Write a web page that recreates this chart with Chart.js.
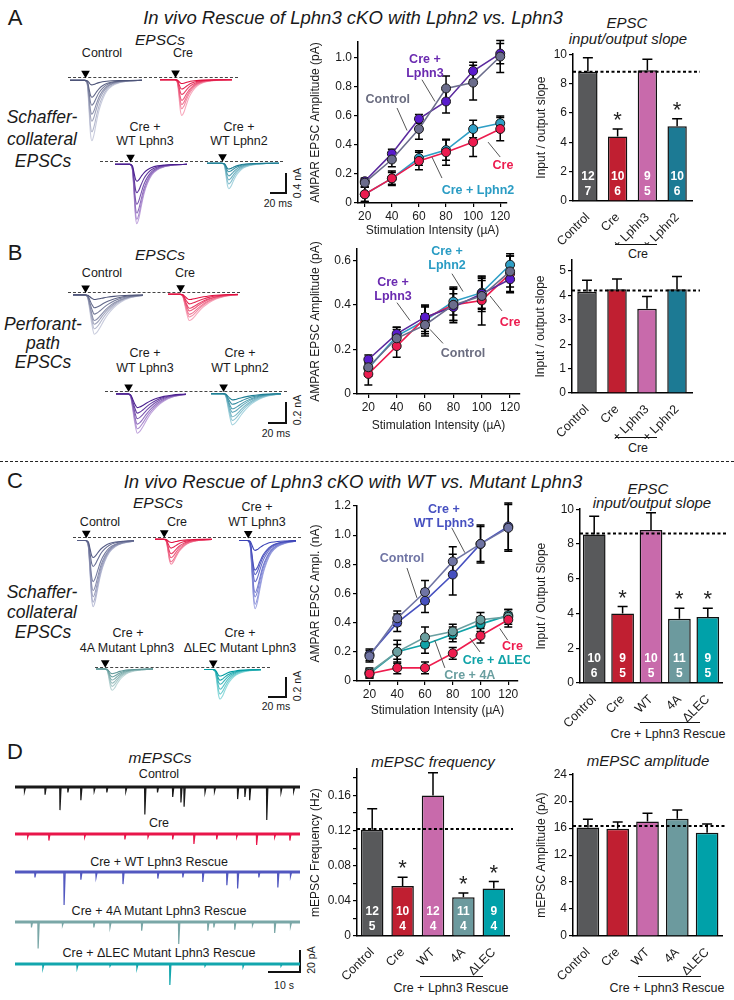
<!DOCTYPE html>
<html>
<head>
<meta charset="utf-8">
<title>Lphn3 rescue</title>
<script src="https://cdn.jsdelivr.net/npm/chart.js@4.4.1/dist/chart.umd.min.js"></script>
<style>
  body { margin: 0; background: #fff; }
  #fig { position: relative; width: 734px; height: 1000px; overflow: hidden; font-family: "Liberation Sans", Arial, sans-serif; color: #1a1a1a; }
  #fig canvas { position: absolute; }
  .t { position: absolute; white-space: nowrap; transform: translate(-50%, -50%); font-size: 12.5px; line-height: 1; }
  .ln { position: absolute; background: #111; }
  .dash { position: absolute; height: 0; border-top: 1px dashed #444; }
</style>
</head>
<body>
<div id="fig"></div>
<script>
// ---------- data ----------
const stimUA = [20, 40, 60, 80, 100, 120];

// A: Schaffer-collateral input/output
const aControl = [0.14, 0.30, 0.51, 0.79, 0.83, 1.01];
const aControlErr = [0.03, 0.05, 0.07, 0.085, 0.12, 0.11];
const aLphn3 = [0.15, 0.34, 0.58, 0.70, 0.91, 1.03];
const aLphn3Err = [0.02, 0.03, 0.03, 0.08, 0.06, 0.07];
const aCre = [0.06, 0.17, 0.29, 0.35, 0.42, 0.51];
const aCreErr = [0.05, 0.05, 0.06, 0.09, 0.10, 0.08];
const aLphn2 = [0.06, 0.17, 0.31, 0.365, 0.51, 0.55];
const aLphn2Err = [0.05, 0.04, 0.05, 0.07, 0.06, 0.05];

// B: perforant-path input/output
const bControl = [0.12, 0.25, 0.31, 0.40, 0.44, 0.55];
const bControlErr = [0.04, 0.04, 0.05, 0.07, 0.07, 0.07];
const bLphn3 = [0.155, 0.27, 0.345, 0.39, 0.45, 0.515];
const bLphn3Err = [0.02, 0.03, 0.05, 0.06, 0.07, 0.06];
const bCre = [0.09, 0.215, 0.34, 0.40, 0.42, 0.54];
const bCreErr = [0.05, 0.05, 0.06, 0.08, 0.11, 0.08];
const bLphn2 = [0.115, 0.26, 0.33, 0.415, 0.455, 0.58];
const bLphn2Err = [0.03, 0.04, 0.06, 0.06, 0.07, 0.05];

// C: WT vs mutant rescue input/output (nA)
const cControl = [0.17, 0.43, 0.61, 0.82, 0.94, 1.05];
const cControlErr = [0.04, 0.05, 0.08, 0.10, 0.12, 0.16];
const cWT = [0.18, 0.40, 0.55, 0.73, 0.94, 1.06];
const cWTErr = [0.04, 0.06, 0.08, 0.14, 0.13, 0.16];
const cCre = [0.05, 0.09, 0.09, 0.19, 0.31, 0.42];
const cCreErr = [0.03, 0.04, 0.04, 0.04, 0.05, 0.05];
const c4A = [0.06, 0.20, 0.30, 0.34, 0.42, 0.44];
const c4AErr = [0.03, 0.08, 0.07, 0.05, 0.05, 0.05];
const cDLEC = [0.05, 0.20, 0.25, 0.32, 0.39, 0.45];
const cDLECErr = [0.03, 0.05, 0.06, 0.05, 0.05, 0.04];

// slope / mEPSC bar summaries
const lphnCats = ['Control', 'Cre', '+ Lphn3', '+ Lphn2'];
const rescueCats = ['Control', 'Cre', 'WT', '4A', 'ΔLEC'];
const slopeA = [8.8, 4.4, 8.9, 5.1];
const slopeAErr = [0.95, 0.5, 0.75, 0.5];
const slopeAN = [['12', '7'], ['10', '6'], ['9', '5'], ['10', '6']];
const slopeB = [4.15, 4.25, 3.45, 4.25];
const slopeBErr = [0.47, 0.42, 0.5, 0.52];
const slopeC = [8.55, 4.0, 8.8, 3.7, 3.8];
const slopeCErr = [1.05, 0.4, 1.0, 0.6, 0.5];
const slopeCN = [['10', '6'], ['9', '5'], ['10', '5'], ['11', '5'], ['9', '5']];
const mFreq = [0.121, 0.057, 0.160, 0.044, 0.054];
const mFreqErr = [0.024, 0.010, 0.026, 0.005, 0.008];
const mFreqN = [['12', '5'], ['10', '4'], ['12', '4'], ['11', '4'], ['9', '4']];
const mAmp = [16.1, 15.9, 17.0, 17.4, 15.3];
const mAmpErr = [1.2, 1.0, 1.2, 1.3, 1.3];
const refSlopeA = 8.8, refSlopeB = 4.2, refSlopeC = 8.6, refFreq = 0.122, refAmp = 16.3;

// EPSC waveform templates (ms, normalised) and peak amplitudes (nA) per trace family
const fastT = [-22, -1, 1, 3, 5, 7, 9, 12, 15, 19, 24, 30, 38, 48, 62, 80];
const fastShape = [0, 0, -0.02, -0.12, -0.5, -0.88, -1, -0.9, -0.72, -0.5, -0.32, -0.18, -0.09, -0.04, -0.01, 0];
const slowT = [-22, -1, 1, 3, 5, 8, 11, 14, 18, 23, 29, 36, 45, 56, 68, 80];
const slowShape = [0, 0, -0.02, -0.1, -0.35, -0.75, -1, -0.96, -0.84, -0.66, -0.48, -0.32, -0.18, -0.08, -0.03, 0];
const aTrControl = [0.10, 0.38, 0.56, 0.76, 0.92, 1.16, 1.36];
const aTrCre = [0.09, 0.22, 0.35, 0.49, 0.59, 0.69, 0.85];
const aTrLphn3 = [0.38, 0.64, 0.90, 1.10, 1.24, 1.34];
const aTrLphn2 = [0.14, 0.21, 0.31, 0.41, 0.51, 0.63];
const bTrControl = [0.05, 0.14, 0.21, 0.28, 0.32, 0.37, 0.43];
const bTrCre = [0.06, 0.11, 0.16, 0.19, 0.23, 0.26, 0.30];
const bTrLphn3 = [0.15, 0.21, 0.27, 0.33, 0.38, 0.43];
const bTrLphn2 = [0.07, 0.12, 0.17, 0.21, 0.26, 0.30, 0.35];
const cTrControl = [0.19, 0.29, 0.46, 0.56, 0.63, 0.69, 0.74];
const cTrCre = [0.04, 0.11, 0.18, 0.23, 0.28, 0.31];
const cTrWT = [0.11, 0.33, 0.38, 0.46, 0.58, 0.63, 0.71, 0.76];
const cTr4A = [0.06, 0.10, 0.14, 0.18, 0.22, 0.27];
const cTrDLEC = [0.08, 0.13, 0.18, 0.24, 0.30, 0.36];

// mEPSC events: [time s, amplitude pA]
const mControl = [[3, 4], [9.5, 7], [14.2, 21], [16.7, 5], [20.8, 12], [25, 4], [29, 5], [35, 4], [41, 25], [45, 5], [49.8, 9], [52.4, 14], [53.4, 18], [60, 5], [63, 4], [70.3, 11], [72.6, 9], [74.1, 12], [79.5, 30], [84, 5], [88, 4]];
const mCre = [[4, 3], [10.7, 6], [22, 3], [34.7, 5], [42, 3], [49.8, 5], [56.5, 9], [63.7, 5], [70, 3], [76.3, 10], [82, 3], [86.8, 6]];
const mWT = [[6.3, 5], [15.5, 30], [20.8, 7], [25.6, 5], [34.1, 11], [45.1, 6], [53, 5], [59.3, 9], [66.9, 12], [70.3, 15], [77, 5], [83, 14], [87, 4]];
const m4A = [[5.2, 5], [7.3, 24], [15, 3], [24.9, 5], [30, 5], [40, 8], [51.7, 20], [60.9, 8], [62.8, 5], [69.4, 7], [75, 3], [82, 10], [87, 4]];
const mDLEC = [[8.8, 4], [19.6, 4], [30, 2], [38.5, 4], [48.9, 19], [60, 2], [72, 3], [84, 2]];

// ---------- colours ----------
const barControl = '#58595b', barCre = '#c01f31', barLphn3 = '#c86aab', barLphn2 = '#1c7a94';
const bar4A = '#6c9a9e', barDLEC = '#00a1a9';

Chart.defaults.font.family = '"Liberation Sans", Arial, sans-serif';
Chart.defaults.font.size = 12;
Chart.defaults.color = '#1a1a1a';

const fig = document.getElementById('fig');

function canvasAt(l, t, w, h) {
  const c = document.createElement('canvas');
  c.width = w; c.height = h;
  c.style.left = l + 'px'; c.style.top = t + 'px';
  c.style.width = w + 'px'; c.style.height = h + 'px';
  fig.appendChild(c);
  return c;
}
function txt(x, y, s, css) {
  const d = document.createElement('div');
  d.className = 't';
  d.style.left = x + 'px'; d.style.top = y + 'px';
  if (css) d.style.cssText += css;
  d.textContent = s;
  fig.appendChild(d);
}
function rule(l, t, w, h) {
  const d = document.createElement('div');
  d.className = 'ln';
  d.style.cssText += `left:${l}px;top:${t}px;width:${w}px;height:${h}px`;
  fig.appendChild(d);
}
function dashed(l, t, w) {
  const d = document.createElement('div');
  d.className = 'dash';
  d.style.cssText += `left:${l}px;top:${t}px;width:${w}px`;
  fig.appendChild(d);
}
function mix(a, b, f) {
  const pa = [1, 3, 5].map(i => parseInt(a.substr(i, 2), 16));
  const pb = [1, 3, 5].map(i => parseInt(b.substr(i, 2), 16));
  return 'rgb(' + pa.map((v, i) => Math.round(v + (pb[i] - v) * f)).join(',') + ')';
}

// error bars, dashed reference, asterisks, n labels, curve labels
function drawErrors(chart, both) {
  const ctx = chart.ctx, y = chart.scales.y;
  ctx.save();
  ctx.strokeStyle = '#000';
  ctx.lineWidth = 1.5;
  chart.data.datasets.forEach((ds, di) => {
    if (!ds.err) return;
    const meta = chart.getDatasetMeta(di);
    const cap = both ? 4 : 5;
    ds.err.forEach((e, j) => {
      const v = typeof ds.data[j] === 'object' ? ds.data[j].y : ds.data[j];
      const px = meta.data[j].x;
      const hi = y.getPixelForValue(v + e), lo = y.getPixelForValue(both ? v - e : v);
      ctx.beginPath();
      ctx.moveTo(px, lo); ctx.lineTo(px, hi);
      ctx.moveTo(px - cap, hi); ctx.lineTo(px + cap, hi);
      if (both) { ctx.moveTo(px - cap, lo); ctx.lineTo(px + cap, lo); }
      ctx.stroke();
    });
  });
  ctx.restore();
}
const figExtras = {
  id: 'figExtras',
  beforeDatasetsDraw(chart, args, o) {
    if (o.errMode === 'both') drawErrors(chart, true);
  },
  afterDatasetsDraw(chart, args, o) {
    if (!o.errMode) return;
    if (o.errMode === 'up') drawErrors(chart, false);
    const ctx = chart.ctx, y = chart.scales.y, x = chart.scales.x, a = chart.chartArea;
    const ds = chart.data.datasets[0], meta = chart.getDatasetMeta(0);
    ctx.save();
    if (o.refLine !== undefined) {
      const py = y.getPixelForValue(o.refLine);
      ctx.beginPath();
      ctx.setLineDash([3, 2.5]);
      ctx.lineWidth = 2;
      ctx.strokeStyle = '#000';
      ctx.moveTo(a.left, py); ctx.lineTo(a.right + (o.refExtend || 0), py);
      ctx.stroke();
      ctx.setLineDash([]);
    }
    (o.stars || []).forEach(i => {
      const py = y.getPixelForValue(ds.data[i] + ds.err[i]);
      ctx.font = '22px "Liberation Sans", Arial';
      ctx.fillStyle = '#222';
      ctx.textAlign = 'center';
      ctx.textBaseline = 'alphabetic';
      ctx.fillText('*', meta.data[i].x, py - 2);
    });
    (o.nLabels || []).forEach((pair, i) => {
      ctx.font = 'bold 12px "Liberation Sans", Arial';
      ctx.fillStyle = '#fff';
      ctx.textAlign = 'center';
      ctx.textBaseline = 'middle';
      ctx.fillText(pair[0], meta.data[i].x, a.bottom - 24);
      ctx.fillText(pair[1], meta.data[i].x, a.bottom - 9);
    });
    (o.notes || []).forEach(n => {
      ctx.strokeStyle = '#555';
      ctx.lineWidth = 1;
      ctx.beginPath();
      ctx.moveTo(x.getPixelForValue(n.from[0]), y.getPixelForValue(n.from[1]));
      ctx.lineTo(x.getPixelForValue(n.to[0]), y.getPixelForValue(n.to[1]));
      ctx.stroke();
      ctx.font = 'bold 12.5px "Liberation Sans", Arial';
      ctx.fillStyle = n.color;
      ctx.textAlign = 'center';
      ctx.textBaseline = 'middle';
      const cx = x.getPixelForValue(n.at[0]), cy = y.getPixelForValue(n.at[1]);
      n.text.forEach((s, k) => ctx.fillText(s, cx, cy + (k - (n.text.length - 1) / 2) * 14));
    });
    ctx.restore();
  }
};
Chart.register(figExtras);

const baseOpts = { responsive: false, animation: false, devicePixelRatio: 1 };

// ticks: values that get a mark; labelEvery: only these values get a label
function yAxis(min, max, ticks, title, width, fmt, labelled) {
  return {
    min, max,
    afterBuildTicks: s => { s.ticks = ticks.map(v => ({ value: v })); },
    afterFit: s => { s.width = width; },
    ticks: {
      callback: v => (labelled && !labelled.includes(v) ? '' : (fmt ? fmt(v) : String(v))),
      padding: 2, font: { size: 12 }, color: '#1a1a1a'
    },
    grid: { drawOnChartArea: false, drawTicks: true, tickLength: 4, color: '#000', lineWidth: 1.2 },
    border: { display: true, color: '#000', width: 1.5 },
    title: { display: true, text: title, font: { size: 12 }, padding: { top: 2, bottom: 2 }, color: '#1a1a1a' }
  };
}
function ioX(min, max, h) {
  return {
    type: 'linear', min, max,
    afterBuildTicks: s => { s.ticks = stimUA.map(v => ({ value: v })); },
    afterFit: s => { s.height = h; },
    ticks: { padding: 2, font: { size: 12 }, color: '#1a1a1a' },
    grid: { drawOnChartArea: false, drawTicks: true, tickLength: 4, color: '#000', lineWidth: 1.2 },
    border: { display: true, color: '#000', width: 1.5 },
    title: { display: true, text: 'Stimulation Intensity (µA)', font: { size: 12 }, padding: { top: 2, bottom: 2 }, color: '#1a1a1a' }
  };
}
const fmt1 = v => (v === 0 ? '0' : v.toFixed(1));

function ioChart(c, series, xCfg, yCfg, pad, notes) {
  new Chart(c, {
    type: 'line',
    data: {
      datasets: series.map(s => ({
        data: stimUA.map((u, i) => ({ x: u, y: s.v[i] })),
        err: s.e,
        borderColor: s.c,
        backgroundColor: s.p || s.c,
        pointBackgroundColor: s.p || s.c,
        pointBorderColor: '#1a1a1a',
        pointBorderWidth: 1,
        pointRadius: 4.5,
        borderWidth: 1.6
      }))
    },
    options: Object.assign({}, baseOpts, {
      layout: { padding: pad },
      plugins: { legend: { display: false }, tooltip: { enabled: false }, figExtras: { errMode: 'both', notes } },
      scales: { x: xCfg, y: yCfg }
    })
  });
}

function barChart(c, cats, vals, errs, colors, yCfg, xh, pad, barPct, extras) {
  new Chart(c, {
    type: 'bar',
    data: {
      labels: cats,
      datasets: [{ data: vals, err: errs, backgroundColor: colors, borderColor: '#111', borderWidth: 1.5, barPercentage: barPct, categoryPercentage: 1 }]
    },
    options: Object.assign({}, baseOpts, {
      layout: { padding: pad },
      plugins: { legend: { display: false }, tooltip: { enabled: false }, figExtras: Object.assign({ errMode: 'up' }, extras) },
      scales: {
        x: {
          afterFit: s => { s.height = xh; },
          ticks: { minRotation: 45, maxRotation: 45, padding: 1, font: { size: 12.5 }, color: '#1a1a1a' },
          grid: { display: false },
          border: { display: true, color: '#000', width: 1.5 }
        },
        y: yCfg
      }
    })
  });
}

// one family of overlaid EPSC traces
function traceChart(sec, amps, stimX, baseY, dark, light) {
  const w = Math.round((sec.tMax - sec.tMin) * sec.pxMs);
  const h = 14 + Math.round(Math.max(...amps) * sec.pxNA) + 6;
  const c = canvasAt(Math.round(stimX + sec.tMin * sec.pxMs), baseY - 14, w, h);
  const datasets = amps.map((amp, k) => ({
    data: sec.t.map((t, i) => ({ x: t, y: sec.shape[i] * amp })),
    borderColor: mix(dark, light, k / (amps.length - 1)),
    borderWidth: 1.1,
    pointRadius: 0,
    cubicInterpolationMode: 'monotone'
  }));
  datasets.push({
    data: [{ x: 0, y: 8 / sec.pxNA }], showLine: false,
    pointStyle: 'triangle', pointRotation: 180, pointRadius: 5,
    pointBackgroundColor: '#000', pointBorderColor: '#000', borderWidth: 0
  });
  new Chart(c, {
    type: 'line',
    data: { datasets },
    options: Object.assign({}, baseOpts, {
      layout: { padding: 0 },
      plugins: { legend: { display: false }, tooltip: { enabled: false } },
      scales: {
        x: { type: 'linear', display: false, min: sec.tMin, max: sec.tMax },
        y: { display: false, min: -(h - 14) / sec.pxNA, max: 14 / sec.pxNA }
      }
    })
  });
}

// one mEPSC recording
function miniTrace(events, baseY, color) {
  const pxPA = 1.1;
  const h = Math.round(Math.max(...events.map(e => e[1])) * pxPA + 10);
  const c = canvasAt(15, baseY - 5, 285, h);
  const pts = [{ x: 0, y: 0 }];
  events.forEach(([t, a]) => pts.push({ x: t - 0.08, y: 0 }, { x: t, y: -a }, { x: t + 0.35, y: 0 }));
  pts.push({ x: 90, y: 0 });
  new Chart(c, {
    type: 'line',
    data: {
      datasets: [
        { data: pts, borderColor: color, borderWidth: 1.2, pointRadius: 0 },
        { data: [{ x: 0, y: 0 }, { x: 90, y: 0 }], borderColor: color, borderWidth: 3, pointRadius: 0 }
      ]
    },
    options: Object.assign({}, baseOpts, {
      layout: { padding: 0 },
      plugins: { legend: { display: false }, tooltip: { enabled: false } },
      scales: {
        x: { type: 'linear', display: false, min: 0, max: 90 },
        y: { display: false, min: -(h - 5) / pxPA, max: 5 / pxPA }
      }
    })
  });
}

// ---------- static text & decorations ----------
dashed(68, 77, 170); dashed(100, 161, 183);
dashed(68, 292, 172); dashed(105, 391, 182);
dashed(73, 537, 228); dashed(95, 667, 175);

const bigLetter = 'font-size:22px';
txt(15, 18, 'A', bigLetter); txt(15, 253, 'B', bigLetter); txt(15, 481, 'C', bigLetter); txt(15, 752, 'D', bigLetter);
txt(353, 18, 'In vivo Rescue of Lphn3 cKO with Lphn2 vs. Lphn3', 'font-size:18.5px;font-style:italic');
txt(353, 482, 'In vivo Rescue of Lphn3 cKO with WT vs. Mutant Lphn3', 'font-size:18.5px;font-style:italic');
const sep = document.createElement('div');
sep.style.cssText = 'position:absolute;left:0;top:461px;width:734px;height:0;border-top:1.5px dashed #222';
fig.appendChild(sep);

const ital = 'font-style:italic;font-size:15.5px';
const side = 'font-style:italic;font-size:17.5px';
const small = 'font-size:10.5px';
const vert = 'font-size:10.5px;transform:translate(-50%,-50%) rotate(-90deg)';

// A traces text
txt(160, 40, 'EPSCs', ital); txt(102, 53, 'Control'); txt(183, 53, 'Cre');
txt(145, 127, 'Cre +'); txt(145, 141, 'WT Lphn3'); txt(239, 127, 'Cre +'); txt(239, 141, 'WT Lphn2');
txt(42, 118, 'Schaffer-', side); txt(42, 140, 'collateral', side); txt(43, 162, 'EPSCs', side);
rule(285, 173, 1.5, 20); rule(270, 192, 17, 1.5); txt(278, 203, '20 ms', small); txt(297, 183, '0.4 nA', vert);
// B traces text
txt(160, 255, 'EPSCs', ital); txt(102, 273, 'Control'); txt(185, 273, 'Cre');
txt(145, 353, 'Cre +'); txt(145, 368, 'WT Lphn3'); txt(240, 353, 'Cre +'); txt(240, 368, 'WT Lphn2');
txt(43, 325, 'Perforant-', side); txt(43, 344, 'path', side); txt(43, 363, 'EPSCs', side);
rule(285, 402, 1.5, 21); rule(268, 422, 19, 1.5); txt(276, 433, '20 ms', small); txt(297, 410, '0.2 nA', vert);
// C traces text
txt(158, 503, 'EPSCs', ital); txt(100, 522, 'Control'); txt(177, 522, 'Cre');
txt(257, 507, 'Cre +'); txt(257, 522, 'WT Lphn3');
txt(42, 593, 'Schaffer-', side); txt(42, 613, 'collateral', side); txt(43, 633, 'EPSCs', side);
txt(128, 633, 'Cre +'); txt(127, 648, '4A Mutant Lphn3'); txt(240, 633, 'Cre +'); txt(240, 648, 'ΔLEC Mutant Lphn3');
rule(285, 677, 1.5, 20); rule(268, 696, 19, 1.5); txt(276, 706, '20 ms', small); txt(297, 686, '0.2 nA', vert);
// D traces text
txt(160, 758, 'mEPSCs', ital); txt(159, 774, 'Control'); txt(159, 823, 'Cre');
txt(159, 862, 'Cre + WT Lphn3 Rescue'); txt(159, 911, 'Cre + 4A Mutant Lphn3 Rescue'); txt(159, 953, 'Cre + ΔLEC Mutant Lphn3 Rescue');
rule(299, 950, 1.5, 22); rule(268, 971, 33, 1.5); txt(284, 985, '10 s', small); txt(311, 960, '20 pA', vert);

// bar titles and group brackets
const btitle = 'font-style:italic;font-size:15px';
txt(627, 22, 'EPSC', btitle); txt(628, 38, 'input/output slope', btitle);
rule(615, 244, 42, 1.2); txt(638, 254, 'Cre');
rule(615, 437, 42, 1.2); txt(638, 448, 'Cre');
txt(648, 488, 'EPSC', btitle); txt(652, 502, 'input/output slope', btitle);
rule(640, 722, 60, 1.2); txt(668, 734, 'Cre + Lphn3 Rescue');
txt(433, 761, 'mEPSC frequency', btitle); rule(420, 976, 63, 1.2); txt(451, 988, 'Cre + Lphn3 Rescue');
txt(648, 760, 'mEPSC amplitude', btitle); rule(638, 976, 63, 1.2); txt(667, 988, 'Cre + Lphn3 Rescue');

// ---------- traces ----------
const secA = { t: fastT, shape: fastShape, tMin: -22, tMax: 80, pxMs: 0.8, pxNA: 50 };
const secB = { t: slowT, shape: slowShape, tMin: -16, tMax: 73, pxMs: 0.9, pxNA: 108 };
const secC = { t: fastT, shape: fastShape, tMin: -12, tMax: 62, pxMs: 0.9, pxNA: 100 };
traceChart(secA, aTrControl, 83, 77, '#4d5478', '#c9ccdd');
traceChart(secA, aTrCre, 173, 77, '#e0103f', '#f7a8bc');
traceChart(secA, aTrLphn3, 128, 161, '#4b2090', '#c0a4dc');
traceChart(secA, aTrLphn2, 220, 161, '#1f7f95', '#a5d3de');
traceChart(secB, bTrControl, 82, 292, '#4d5478', '#c9ccdd');
traceChart(secB, bTrCre, 177, 292, '#e0103f', '#f7a8bc');
traceChart(secB, bTrLphn3, 125, 391, '#4b2090', '#c0a4dc');
traceChart(secB, bTrLphn2, 220, 391, '#1f7f95', '#a5d3de');
traceChart(secC, cTrControl, 83, 537, '#565d86', '#b9bdd6');
traceChart(secC, cTrCre, 161, 537, '#e0103f', '#f490a8');
traceChart(secC, cTrWT, 245, 537, '#3a42b6', '#a2a7e2');
traceChart(secC, cTr4A, 102, 667, '#5c9696', '#bcd6d6');
traceChart(secC, cTrDLEC, 210, 667, '#009ca2', '#90dadc');

miniTrace(mControl, 787, '#1a1a1a');
miniTrace(mCre, 834, '#e8164a');
miniTrace(mWT, 872, '#5258c0');
miniTrace(m4A, 922, '#7aa7a7');
miniTrace(mDLEC, 964, '#12a6ad');

// ---------- input/output curves ----------
ioChart(canvasAt(300, 30, 225, 210), [
  { v: aControl, e: aControlErr, c: '#6b6d8c' },
  { v: aLphn3, e: aLphn3Err, c: '#5b2a9e', p: '#5a1ccc' },
  { v: aCre, e: aCreErr, c: '#ec1c4f' },
  { v: aLphn2, e: aLphn2Err, c: '#2f9fc6' }
], ioX(15, 125, 37), yAxis(0, 1.11, [0, 0.2, 0.4, 0.6, 0.8, 1.0], 'AMPAR EPSC Amplitude (pA)', 52, fmt1),
{ left: 6, top: 12, right: 18, bottom: 0 }, [
  { text: ['Cre +', 'Lphn3'], color: '#6a2ab0', at: [64.4, 0.94], from: [62.2, 0.85], to: [71.8, 0.70] },
  { text: ['Control'], color: '#6b6d80', at: [37, 0.71], from: [43.8, 0.655], to: [51.2, 0.50] },
  { text: ['Cre'], color: '#ec1c4f', at: [122, 0.255], from: [111, 0.42], to: [120, 0.317] },
  { text: ['Cre + Lphn2'], color: '#2a9cc4', at: [103.6, 0.083], from: [69.6, 0.317], to: [77, 0.172] }
]);

ioChart(canvasAt(300, 240, 232, 195), [
  { v: bControl, e: bControlErr, c: '#6b6d8c' },
  { v: bLphn3, e: bLphn3Err, c: '#5b2a9e', p: '#5a1ccc' },
  { v: bCre, e: bCreErr, c: '#ec1c4f' },
  { v: bLphn2, e: bLphn2Err, c: '#2f9fc6' }
], ioX(12, 127, 41), yAxis(0, 0.65, [0, 0.2, 0.4, 0.6], 'AMPAR EPSC Amplitude (pA)', 51, fmt1),
{ left: 6, top: 8, right: 12, bottom: 0 }, [
  { text: ['Cre +', 'Lphn2'], color: '#2a9cc4', at: [75.5, 0.61], from: [79, 0.54], to: [86.8, 0.46] },
  { text: ['Cre +', 'Lphn3'], color: '#6a2ab0', at: [37.4, 0.47], from: [40.2, 0.41], to: [49.4, 0.33] },
  { text: ['Control'], color: '#6b6d80', at: [86.8, 0.18], from: [63.5, 0.29], to: [72.7, 0.227] },
  { text: ['Cre'], color: '#ec1c4f', at: [120, 0.32], from: [105.9, 0.44], to: [114.3, 0.373] }
]);

ioChart(canvasAt(300, 495, 230, 225), [
  { v: cControl, e: cControlErr, c: '#6f74a4' },
  { v: cWT, e: cWTErr, c: '#4650c0' },
  { v: cCre, e: cCreErr, c: '#ee1c4e' },
  { v: c4A, e: c4AErr, c: '#6a9fa0' },
  { v: cDLEC, e: cDLECErr, c: '#10a3a8' }
], ioX(11, 127, 39), yAxis(0, 1.2, [0, 0.2, 0.4, 0.6, 0.8, 1.0, 1.2], 'AMPAR EPSC Ampl. (nA)', 51, fmt1),
{ left: 6, top: 11, right: 12, bottom: 0 }, [
  { text: ['Cre +', 'WT Lphn3'], color: '#4650c0', at: [73.6, 1.13], from: [79.3, 1.05], to: [88.7, 0.88] },
  { text: ['Control'], color: '#6f74a4', at: [43.4, 0.84], from: [47, 0.775], to: [54.2, 0.57] },
  { text: ['Cre'], color: '#ee1c4e', at: [123, 0.233], from: [113.9, 0.36], to: [119.6, 0.28] },
  { text: ['Cre + ΔLEC'], color: '#10a3a8', at: [112, 0.14], from: [92.3, 0.295], to: [99.5, 0.2] },
  { text: ['Cre + 4A'], color: '#6a9fa0', at: [92.3, 0.04], from: [67, 0.28], to: [74.3, 0.09] }
]);

// ---------- bar summaries ----------
barChart(canvasAt(530, 45, 204, 200), lphnCats, slopeA, slopeAErr, [barControl, barCre, barLphn3, barLphn2],
  yAxis(0, 10, [0, 2, 4, 6, 8, 10], 'Input / output slope', 41), 44,
  { left: 2, top: 6, right: 42, bottom: 0 }, 0.65,
  { refLine: refSlopeA, refExtend: 8, stars: [1, 3], nLabels: slopeAN });

barChart(canvasAt(530, 250, 204, 190), lphnCats, slopeB, slopeBErr, [barControl, barCre, barLphn3, barLphn2],
  yAxis(0, 5.45, [0, 1, 2, 3, 4, 5], 'Input / output slope', 41), 47,
  { left: 1, top: 10, right: 42, bottom: 0 }, 0.65,
  { refLine: refSlopeB, refExtend: 8 });

barChart(canvasAt(530, 500, 204, 232), rescueCats, slopeC, slopeCErr, [barControl, barCre, barLphn3, bar4A, barDLEC],
  yAxis(0, 10, [0, 2, 4, 6, 8, 10], 'Input / Output Slope', 48), 49,
  { left: 2, top: 8, right: 12, bottom: 0 }, 0.8,
  { refLine: refSlopeC, refExtend: 6, stars: [1, 3, 4], nLabels: slopeCN });

barChart(canvasAt(300, 760, 224, 240), rescueCats, mFreq, mFreqErr, [barControl, barCre, barLphn3, bar4A, barDLEC],
  yAxis(0, 0.19, [0, 0.02, 0.04, 0.06, 0.08, 0.1, 0.12, 0.14, 0.16, 0.18], 'mEPSC Frequency (Hz)', 51,
    v => (v === 0 ? '0' : v.toFixed(2)), [0, 0.04, 0.08, 0.12, 0.16]), 64,
  { left: 6, top: 7, right: 15, bottom: 0 }, 0.74,
  { refLine: refFreq, refExtend: 4, stars: [1, 3, 4], nLabels: mFreqN });

barChart(canvasAt(530, 765, 204, 235), rescueCats, mAmp, mAmpErr, [barControl, barCre, barLphn3, bar4A, barDLEC],
  yAxis(0, 24, [0, 2, 4, 6, 8, 10, 12, 14, 16, 18, 20, 22, 24], 'mEPSC Amplitude (pA)', 41, null, [0, 4, 8, 12, 16, 20, 24]), 64,
  { left: 2, top: 8, right: 12, bottom: 0 }, 0.76,
  { refLine: refAmp, refExtend: 4 });
</script>
</body>
</html>
